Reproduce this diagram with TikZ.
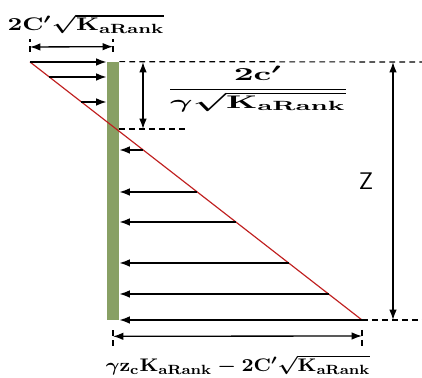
\documentclass[tikz,border=0pt]{standalone}
\usepackage{amsmath}
\usetikzlibrary{positioning,arrows.meta,calc,fit}
\definecolor{wallgreen}{RGB}{136,160,100}
\definecolor{lineRed}{RGB}{192,32,32}
\newcommand{\Kar}{\mathrm{K}_{\mathbf{aRank}}}
\newcommand{\wideby}[2]{\scalebox{#1}[1]{#2}}

\begin{document}
\begin{tikzpicture}[
  x=0.6pt, y=-0.6pt,
  font=\fontsize{11}{13}\selectfont\boldmath,
  wall/.style    = {draw=none, fill=wallgreen, inner sep=0pt},
  load/.style    = {-{Latex[length=2.2mm,width=1.6mm]}, line width=1pt},
  dim/.style     = {{Latex[length=2.2mm,width=1.6mm]}-{Latex[length=2.2mm,width=1.6mm]},
                    line width=0.8pt},
  guide/.style   = {dash pattern=on 3.5pt off 2.5pt, line width=0.7pt},
  profile/.style = {draw=lineRed, line width=0.7pt},
  label/.style   = {inner sep=1pt},
]
\useasboundingbox (0,0) rectangle (422,378);

% ===== wall and pressure line =====
\node[wall, fit={(107,62) (119,320)}] (wall) {};
\coordinate (top) at (30,62);
\coordinate (toe) at (362,320);
\draw[profile] (top) -- (toe);

% ===== tension zone: arrows towards the wall =====
\foreach \yy in {62,77,102} {
  \coordinate (p) at ($(top)!{(\yy-62)/258}!(toe)$);
  \draw[load] (p) -- (p -| wall.west);
}

% ===== active zone: arrows away from the wall =====
\foreach \yy in {150,192,222,263,294,320} {
  \coordinate (p) at ($(top)!{(\yy-62)/258}!(toe)$);
  \draw[load] (p) -- (p -| wall.east);
}

% ===== guide lines =====
\coordinate (rtop) at (422,62);
\coordinate (rbot) at (422,320);
\coordinate (zc)   at (186,129);
\draw[guide] (wall.north east) -- (rtop);
\draw[guide] (zc -| wall.east) -- (zc);
\draw[guide] (toe) -- (rbot);

% ===== depth of tension crack and total height =====
\coordinate (zcTop) at (143,62);
\coordinate (zTop)  at (393,62);
\draw[dim] (zcTop) -- (zcTop |- zc);
\draw[dim] (zTop) -- (zTop |- toe);

% ===== top dimension =====
\draw[guide] ($(top)+(0,-10)$) -- ($(top)+(0,-23)$);
\draw[guide] ($(wall.north)+(0,-10)$) -- ($(wall.north)+(0,-23)$);
\draw[dim] ($(top)+(0,-15)$) -- ($(wall.north)+(0,-15)$);

% ===== bottom dimension =====
\draw[guide] ($(wall.south)+(0,10)$) -- ($(wall.south)+(0,26)$);
\draw[guide] ($(toe)+(0,10)$) -- ($(toe)+(0,26)$);
\draw[dim] ($(wall.south)+(0,16)$) -- ($(toe)+(0,16)$);

% ===== labels =====
\node[label] (ktop)  at (86,24)
  {\wideby{1.4}{$2\mathrm{C}'\sqrt{\Kar}$}};
\node[label] (kfrac) at (258,89)
  {\wideby{1.9}{$\dfrac{2\mathrm{c}'}{\gamma\sqrt{\Kar}}$}};
\node[font=\Large\sffamily] (zlab) at (366,181) {Z};
\node[label] (kbot)  at (238,365)
  {\wideby{1.15}{$\gamma\mathrm{z}_{\mathrm{c}}\Kar - 2\mathrm{C}'\sqrt{\Kar}$}};

\end{tikzpicture}
\end{document}
